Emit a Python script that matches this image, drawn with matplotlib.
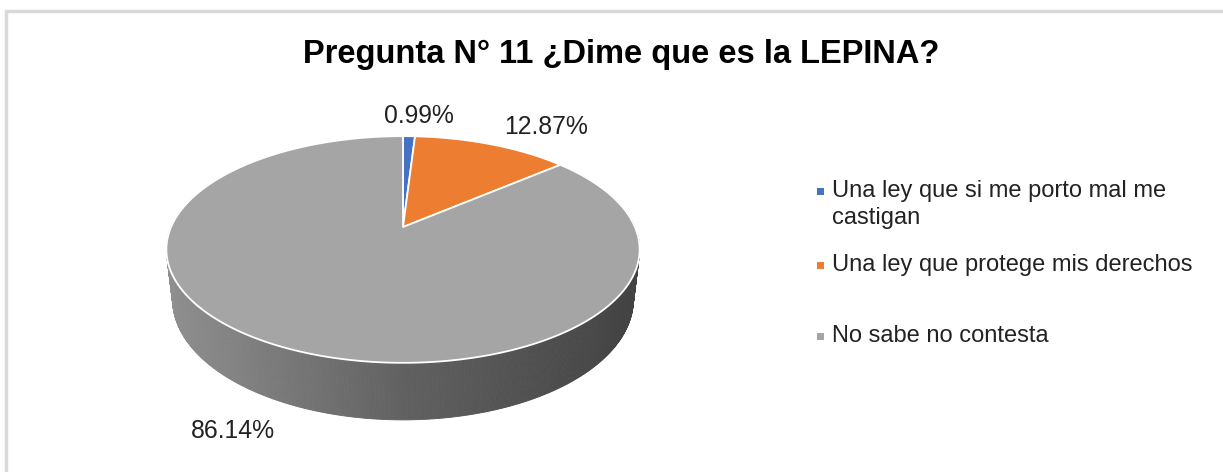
import numpy as np
import matplotlib
matplotlib.use("Agg")
import matplotlib.pyplot as plt
from matplotlib.patches import Polygon, Rectangle

# ---- data ----
categories = ["Una ley que si me porto mal me castigan",
              "Una ley que protege mis derechos",
              "No sabe no contesta"]
legend_labels = ["Una ley que si me porto mal me\ncastigan",
                 "Una ley que protege mis derechos",
                 "No sabe no contesta"]
values = [0.99, 12.87, 86.14]
colors = ["#4472C4", "#ED7D31", "#A5A5A5"]
title = "Pregunta N° 11 ¿Dime que es la LEPINA?"

plt.rcParams['font.family'] = ['Liberation Sans', 'DejaVu Sans']

W, H = 1223, 472
fig = plt.figure(figsize=(W / 100, H / 100), dpi=100)
ax = fig.add_axes([0, 0, 1, 1])
ax.set_xlim(0, W)
ax.set_ylim(H, 0)
ax.axis('off')

# chart border (partially cropped)
ax.plot([6, 6, W + 5], [H + 5, 11, 11], color="#D9D9D9", lw=2.5,
        solid_joinstyle='miter', clip_on=False)

# ---- 3D pie projection ----
cx, cy = 403, 227
elev = np.deg2rad(28)
s, k = np.sin(elev), np.cos(elev)
D, F, h = 4.45, 1032.0, 0.248


def proj(x, y, z):
    u = x
    v = y * s + z * k
    w = y * k - z * s
    f = F / (D + w)
    return cx + u * f, cy - v * f


def pt(phi, z=0.0):
    # phi: clockwise angle from 12 o'clock, degrees
    p = np.deg2rad(phi)
    return proj(np.sin(p), np.cos(p), z)


total = sum(values)
bounds = np.concatenate([[0], np.cumsum(values) / total * 360.0])

phis = np.linspace(0, 360, 721)
xs_all = [pt(p)[0] for p in phis]
xmin, xmax = min(xs_all), max(xs_all)


def side_color(t):
    stops = [(0.0, 0.56), (0.5, 0.38), (1.0, 0.26)]
    if t <= 0.5:
        g = stops[0][1] + (stops[1][1] - stops[0][1]) * (t / 0.5)
    else:
        g = stops[1][1] + (stops[2][1] - stops[1][1]) * ((t - 0.5) / 0.5)
    return (g, g, g)


for i in range(len(phis) - 1):
    p0, p1 = phis[i], phis[i + 1]
    pm = 0.5 * (p0 + p1)
    if np.cos(np.deg2rad(pm)) > 0.15:
        continue
    a0, a1 = pt(p0), pt(p1)
    b0, b1 = pt(p0, -h), pt(p1, -h)
    t = (0.5 * (a0[0] + a1[0]) - xmin) / (xmax - xmin)
    c = side_color(t)
    ax.add_patch(Polygon([a0, a1, b1, b0], closed=True, facecolor=c,
                         edgecolor=c, lw=0.6, antialiased=True))

# top wedges
for i, (v, col) in enumerate(zip(values, colors)):
    ang = np.linspace(bounds[i], bounds[i + 1], max(3, int((bounds[i + 1] - bounds[i]) * 2)))
    verts = [(cx, cy)] + [pt(a) for a in ang]
    ax.add_patch(Polygon(verts, closed=True, facecolor=col,
                         edgecolor="white", lw=1.3, joinstyle='round'))

# data labels
txt_col = "#222222"
label_pos = [(419, 116), (546, 127), (233, 431)]
for v, (lx, ly) in zip(values, label_pos):
    ax.text(lx, ly, f"{v:.2f}%", fontsize=17.8, color=txt_col,
            ha='center', va='center')

# title
ax.text(621, 55, title, fontsize=23.5, fontweight='bold', color="black",
        ha='center', va='center')

# legend
leg_y = [191, 265, 336]
line_h = 27
for lab, col, y in zip(legend_labels, colors, leg_y):
    ax.add_patch(Rectangle((816.5, y - 3.5), 7, 7, facecolor=col, edgecolor='none'))
    for j, line in enumerate(lab.split("\n")):
        ax.text(832, y + j * line_h, line, fontsize=17, color=txt_col,
                ha='left', va='center')

fig.savefig("out.png", dpi=100, facecolor="white")
